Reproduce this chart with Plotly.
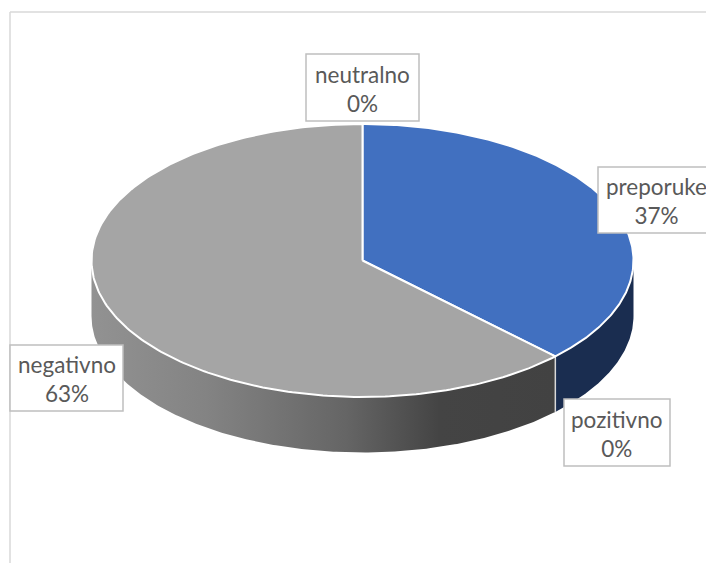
import numpy as np
import plotly.graph_objects as go

# --- data (clockwise from 12 o'clock) ---
categories = ["preporuke", "pozitivno", "negativno", "neutralno"]
values = [37.4, 0, 62.6, 0]
percent_labels = ["37%", "0%", "63%", "0%"]

# --- layout of the drawing, in page pixels ---
W, H = 706, 563
CX, CY, RX, RY, DEPTH = 362.5, 260.5, 271.0, 136.5, 55.5
TOP_COLORS = {"preporuke": "#4170c0", "negativno": "#a5a5a5"}
SIDE_COLORS = {"preporuke": "#1a2d50"}
GRAY_SIDE_SCALE = [[0, "#929292"], [0.25, "#838383"], [0.55, "#656565"], [0.75, "#444444"], [1, "#424242"]]
BOXES = {  # label boxes: x0, x1, y0, y1
    "preporuke": (598, 716, 167, 233),
    "pozitivno": (564, 670, 399, 466),
    "negativno": (10, 123, 345, 411),
    "neutralno": (306, 419, 54, 121),
}


def arc(a0, a1, dy=0.0, n=240):
    """Ellipse points for clockwise angles in degrees from 12 o'clock."""
    t = np.radians(np.linspace(a0, a1, n))
    return CX + RX * np.sin(t), CY - RY * np.cos(t) + dy


fig = go.Figure()
edges = np.concatenate([[0], np.cumsum(values)]) / sum(values) * 360.0

# outer wall, only the part turned to the viewer (90 deg to 270 deg)
for cat, a0, a1 in zip(categories, edges[:-1], edges[1:]):
    lo, hi = max(a0, 90.0), min(a1, 270.0)
    if a1 <= a0 or hi <= lo:
        continue
    xt, yt = arc(lo, hi)
    xb, yb = arc(lo, hi, DEPTH)
    kw = dict(fillcolor=SIDE_COLORS[cat]) if cat in SIDE_COLORS else dict(
        fillgradient=dict(type="horizontal", colorscale=GRAY_SIDE_SCALE))
    fig.add_trace(go.Scatter(
        x=np.concatenate([xt, xb[::-1], xt[:1]]),
        y=np.concatenate([yt, yb[::-1], yt[:1]]),
        mode="lines", fill="toself", line=dict(width=0), hoverinfo="skip", **kw))
    # light seam at the wall's slice boundary
    if a0 > 90.0:
        xs, ys = arc(a0, a0, 0, 2), arc(a0, a0, DEPTH, 2)
        fig.add_trace(go.Scatter(x=[xs[0][0], ys[0][0]], y=[xs[1][0], ys[1][0]], mode="lines",
                                 line=dict(color="#d9d9d9", width=1.5), hoverinfo="skip"))

# top face
for cat, a0, a1 in zip(categories, edges[:-1], edges[1:]):
    if a1 <= a0:
        continue
    xa, ya = arc(a0, a1)
    fig.add_trace(go.Scatter(
        x=np.concatenate([[CX], xa, [CX]]),
        y=np.concatenate([[CY], ya, [CY]]),
        mode="lines", fill="toself", fillcolor=TOP_COLORS[cat],
        line=dict(color="#ffffff", width=2), name=cat,
        hovertemplate=f"{cat}<extra></extra>"))

# labels
for cat, pct in zip(categories, percent_labels):
    x0, x1, y0, y1 = BOXES[cat]
    fig.add_shape(type="rect", x0=x0, x1=x1, y0=y0, y1=y1, layer="above",
                  line=dict(color="#bfbfbf", width=1.5), fillcolor="#ffffff")
    fig.add_annotation(x=(x0 + x1) / 2 - (1 if cat == "preporuke" else 0), y=(y0 + y1) / 2 + 1,
                       text=f"{cat}<br>{pct}", showarrow=False,
                       font=dict(family="Lato, Carlito, sans-serif", size=22.5, color="#595959"))

# chart frame (left and top edges are visible)
fig.add_shape(type="line", x0=10, x1=10, y0=12, y1=H, line=dict(color="#d9d9d9", width=1.5), layer="below")
fig.add_shape(type="line", x0=10, x1=W, y0=12, y1=12, line=dict(color="#d9d9d9", width=1.5), layer="below")

fig.update_layout(
    width=W, height=H, margin=dict(l=0, r=0, t=0, b=0), showlegend=False,
    paper_bgcolor="#ffffff", plot_bgcolor="#ffffff",
    xaxis=dict(range=[0, W], visible=False, fixedrange=True),
    yaxis=dict(range=[H, 0], visible=False, fixedrange=True),
)
fig.write_html("out.html", post_script="document.body.style.margin='0';", config={"displayModeBar": False})
